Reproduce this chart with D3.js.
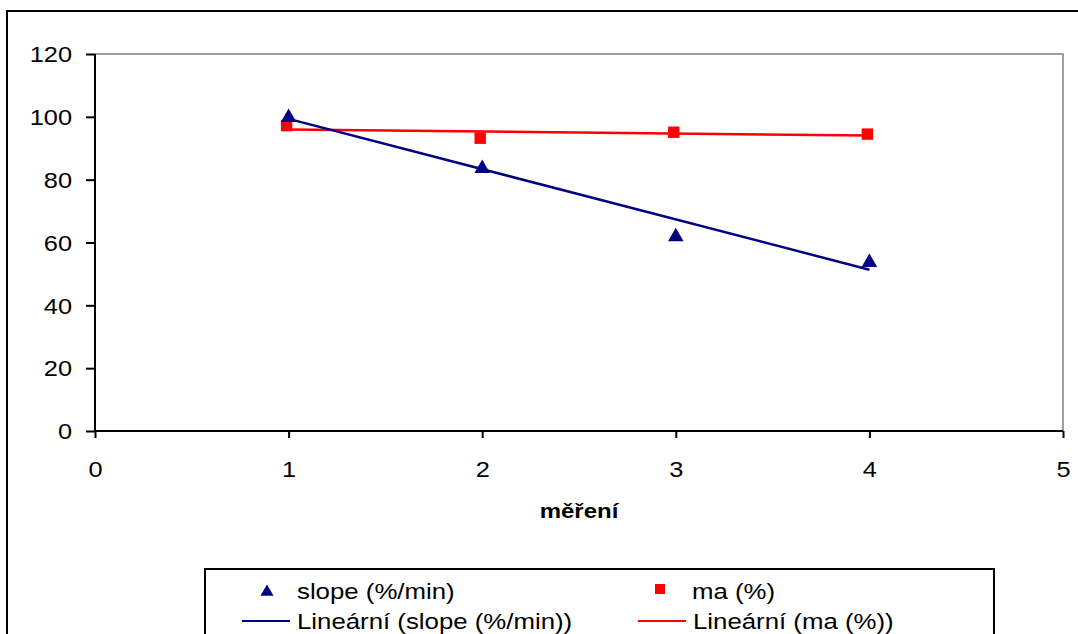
<!DOCTYPE html>
<html>
<head>
<meta charset="utf-8">
<script src="https://cdn.jsdelivr.net/npm/d3@7"></script>
<style>
    body { margin: 0; background: #fff; }
    svg text { font-family: "Liberation Sans", Arial, sans-serif; fill: #000; }
</style>
</head>
<body>
<svg id="chart" width="1078" height="634"></svg>
<script>
// data
const measurements = [1, 2, 3, 4];
const slopeValues = [100.4, 84.2, 62.5, 54.3];
const maValues = [97.2, 93.2, 95.1, 94.5];
const xTicks = [0, 1, 2, 3, 4, 5];
const yTicks = [0, 20, 40, 60, 80, 100, 120];
const xTitle = 'měření';
const legendLabels = ['slope (%/min)', 'ma (%)', 'Lineární (slope (%/min))', 'Lineární (ma (%))'];

const navy = '#000080';
const red = '#ff0000';
const stretch = 1.18; // the original text is drawn wider than it is tall

const svg = d3.select('#chart');
const margin = { l: 95, t: 54, r: 1063, b: 431 };

const x = d3.scaleLinear().domain([0, 5]).range([margin.l, margin.r]);
const y = d3.scaleLinear().domain([0, 120]).range([margin.b, margin.t]);

// outer chart frame, runs off the right and bottom edge
svg.append('rect')
    .attr('x', 7).attr('y', 11)
    .attr('width', 1100).attr('height', 700)
    .attr('fill', 'none')
    .attr('stroke', '#000')
    .attr('stroke-width', 2);

// plot area border (top and right are grey)
svg.append('path')
    .attr('d', `M${margin.l},${margin.t}H${margin.r}V${margin.b}`)
    .attr('fill', 'none')
    .attr('stroke', '#808080')
    .attr('stroke-width', 1.5);

// axes
const axisY = d3.axisLeft(y).tickValues(yTicks).tickFormat(d3.format('d')).tickSize(9).tickPadding(0);
const axisX = d3.axisBottom(x).tickValues(xTicks).tickFormat(d3.format('d')).tickSize(7).tickPadding(0);

const gy = svg.append('g')
    .attr('transform', `translate(${margin.l},0)`)
    .call(axisY);
gy.select('.domain').remove();
gy.selectAll('line').attr('stroke', '#000').attr('stroke-width', 2);
gy.selectAll('text')
    .attr('x', -23 / stretch)
    .attr('dy', '0.36em')
    .attr('transform', `scale(${stretch},1)`)
    .style('font-size', '21.5px')
    .style('font-family', '"Liberation Sans", Arial, sans-serif');

const gx = svg.append('g')
    .attr('transform', `translate(0,${margin.b})`)
    .call(axisX);
gx.select('.domain').remove();
gx.selectAll('line').attr('stroke', '#000').attr('stroke-width', 2);
gx.selectAll('text')
    .attr('y', 46)
    .attr('dy', 0)
    .attr('transform', `scale(${stretch},1)`)
    .style('font-size', '21.5px')
    .style('font-family', '"Liberation Sans", Arial, sans-serif');

// axis lines drawn on top of the ticks
svg.append('line')
    .attr('x1', margin.l).attr('x2', margin.l)
    .attr('y1', margin.t).attr('y2', margin.b)
    .attr('stroke', '#000').attr('stroke-width', 2);
svg.append('line')
    .attr('x1', margin.l).attr('x2', margin.r)
    .attr('y1', margin.b).attr('y2', margin.b)
    .attr('stroke', '#000').attr('stroke-width', 2);

// axis title
svg.append('text')
    .attr('transform', `translate(${(margin.l + margin.r) / 2},518) scale(1.2,1)`)
    .attr('text-anchor', 'middle')
    .style('font-size', '20px')
    .style('font-weight', 'bold')
    .text(xTitle);

// least squares trend line, like Excel's "Lineární"
function linearFit(xs, ys) {
    const mx = d3.mean(xs), my = d3.mean(ys);
    let sxy = 0, sxx = 0;
    xs.forEach((v, i) => {
        sxy += (v - mx) * (ys[i] - my);
        sxx += (v - mx) * (v - mx);
    });
    const k = sxy / sxx;
    const q = my - k * mx;
    const ext = d3.extent(xs);
    return ext.map(v => [v, k * v + q]);
}

const line = d3.line().x(d => x(d[0])).y(d => y(d[1]));

const slopeData = measurements.map((m, i) => ({ m: m, v: slopeValues[i] }));
const maData = measurements.map((m, i) => ({ m: m, v: maValues[i] }));

const triangle = d3.symbol().type(d3.symbolTriangle).size(105);
const square = d3.symbol().type(d3.symbolSquare).size(130);

// markers
svg.append('g')
    .selectAll('path')
    .data(maData)
    .join('path')
    .attr('d', square)
    .attr('transform', d => `translate(${x(d.m) - 2},${y(d.v)})`)
    .attr('fill', red);

svg.append('path')
    .datum(linearFit(measurements, maValues))
    .attr('d', line)
    .attr('fill', 'none')
    .attr('stroke', red)
    .attr('stroke-width', 2.5);

// symbolTriangle is centred on its centroid, shift so the box centre sits on the value
svg.append('g')
    .selectAll('path')
    .data(slopeData)
    .join('path')
    .attr('d', triangle)
    .attr('transform', d => `translate(${x(d.m)},${y(d.v) + 2})`)
    .attr('fill', navy);

svg.append('path')
    .datum(linearFit(measurements, slopeValues))
    .attr('d', line)
    .attr('fill', 'none')
    .attr('stroke', navy)
    .attr('stroke-width', 2.5);

// legend
const legend = svg.append('g');
legend.append('rect')
    .attr('x', 205).attr('y', 569)
    .attr('width', 789).attr('height', 120)
    .attr('fill', '#fff')
    .attr('stroke', '#000')
    .attr('stroke-width', 2);

const legendItems = [
    { label: legendLabels[0], kind: 'triangle', color: navy, x: 242, y: 591 },
    { label: legendLabels[1], kind: 'square', color: red, x: 638, y: 591 },
    { label: legendLabels[2], kind: 'line', color: navy, x: 242, y: 621 },
    { label: legendLabels[3], kind: 'line', color: red, x: 638, y: 621 }
];

const item = legend.selectAll('.item')
    .data(legendItems)
    .join('g')
    .attr('class', 'item')
    .attr('transform', d => `translate(${d.x},${d.y})`);

item.filter(d => d.kind === 'line')
    .append('line')
    .attr('x1', 0).attr('x2', 48)
    .attr('stroke', d => d.color)
    .attr('stroke-width', 2);

item.filter(d => d.kind === 'triangle')
    .append('path')
    .attr('d', d3.symbol().type(d3.symbolTriangle).size(75))
    .attr('transform', 'translate(25,1)')
    .attr('fill', d => d.color);

item.filter(d => d.kind === 'square')
    .append('path')
    .attr('d', d3.symbol().type(d3.symbolSquare).size(100))
    .attr('transform', 'translate(22,-2)')
    .attr('fill', d => d.color);

item.append('text')
    .attr('transform', d => `translate(${d.kind === 'square' ? 54 : 55},8) scale(1.2,1)`)
    .style('font-size', '21.5px')
    .text(d => d.label);
</script>
</body>
</html>
